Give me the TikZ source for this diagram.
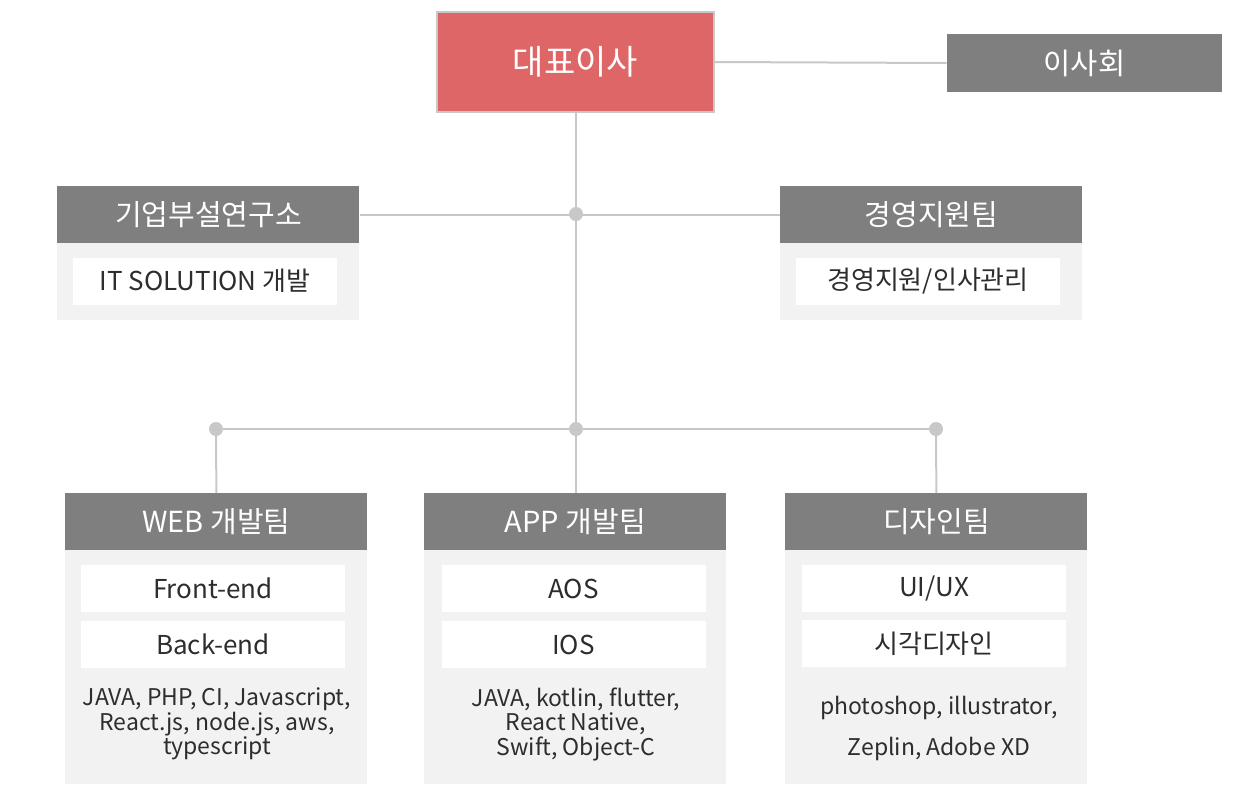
\documentclass[tikz,border=0pt]{standalone}
\usepackage{fontspec}
\setmainfont{Noto Sans CJK KR}
\definecolor{chiefred}{RGB}{222,102,102}
\definecolor{headgrey}{RGB}{127,127,127}
\definecolor{bodygrey}{RGB}{242,242,242}
\definecolor{linegrey}{RGB}{200,200,200}
\definecolor{textdark}{RGB}{45,45,45}
\begin{document}
\begin{tikzpicture}[x=0.5pt,y=-0.5pt,
    chief/.style={fill=chiefred,draw=linegrey,line width=0.6pt,text=white,
      minimum width=138.5pt,minimum height=50pt,inner sep=0pt,
      font=\fontsize{17}{20}\selectfont},
    board/.style={fill=headgrey,text=white,minimum width=137.5pt,
      minimum height=29pt,inner sep=0pt,font=\fontsize{14.8}{17}\selectfont},
    head/.style={fill=headgrey,text=white,minimum width=151pt,
      minimum height=28.5pt,inner sep=0pt,anchor=north west,
      font=\fontsize{14.5}{17}\selectfont},
    body/.style={fill=bodygrey,minimum width=151pt,inner sep=0pt,
      anchor=north west},
    item/.style={fill=white,text=textdark,minimum width=132pt,
      minimum height=23.5pt,inner sep=0pt,font=\fontsize{13}{15}\selectfont},
    note/.style={text=textdark,align=center,inner sep=0pt,
      font=\fontsize{11.5}{12.25}\selectfont},
    conn/.style={draw=linegrey,line width=1pt},
    joint/.style={fill=linegrey}]
  \useasboundingbox (0,0) rectangle (1250,800);

  % top
  \node[chief] (ceo) at (575.5,62) {대표이사};
  \node[board] (board) at (1084.5,63) {이사회};

  % middle tier
  \node[body,minimum height=38.5pt] (labbody) at (57,243) {};
  \node[head] (lab) at (57,186) {기업부설연구소};
  \node[item] (labitem) at (205,281) {IT SOLUTION 개발};

  \node[body,minimum height=38.5pt] (mgmtbody) at (780,243) {};
  \node[head] (mgmt) at (780,186) {경영지원팀};
  \node[item] (mgmtitem) at (928,281) {경영지원/인사관리};

  % bottom tier
  \node[body,minimum height=117pt] (webbody) at (65,550) {};
  \node[head] (web) at (65,493) {WEB 개발팀};
  \node[item] (webfront) at (213,588.5) {Front-end};
  \node[item] (webback) at (213,644.5) {Back-end};
  \node[note] (webtools) at (217,724) {JAVA, PHP, CI, Javascript,\\
    React.js, node.js, aws,\\ typescript};

  \node[body,minimum height=117pt] (appbody) at (424,550) {};
  \node[head] (app) at (424,493) {APP 개발팀};
  \node[item] (appaos) at (573.5,588.5) {AOS};
  \node[item] (appios) at (573.5,644.5) {IOS};
  \node[note] (apptools) at (576,724) {JAVA, kotlin, flutter,\\
    React Native,\\ Swift, Object-C};

  \node[body,minimum height=117pt] (designbody) at (785,550) {};
  \node[head] (design) at (785,493) {디자인팀};
  \node[item] (designux) at (934,588.5) {UI/UX};
  \node[item] (designvis) at (934,643.5) {시각디자인};
  \node[note,font=\fontsize{11.5}{20.5}\selectfont] (designtools) at (939,728)
    {photoshop, illustrator,\\ Zeplin, Adobe XD};

  % connectors
  \coordinate (hub) at (576,214);
  \coordinate (webjoin) at (216,429);
  \coordinate (appjoin) at (576,429);
  \coordinate (designjoin) at (936,429);

  \draw[conn] (ceo.east) -- (board.west);
  \draw[conn] (ceo.south) -- (app.north -| ceo.south);
  \draw[conn] (lab.east) -- (mgmt.west);
  \draw[conn] (webjoin) -- (designjoin);
  \draw[conn] (webjoin) -- (web.north);
  \draw[conn] (designjoin) -- (design.north);

  \foreach \p in {hub,webjoin,appjoin,designjoin}
    \fill[joint] (\p) circle (3.5pt);
\end{tikzpicture}
\end{document}
